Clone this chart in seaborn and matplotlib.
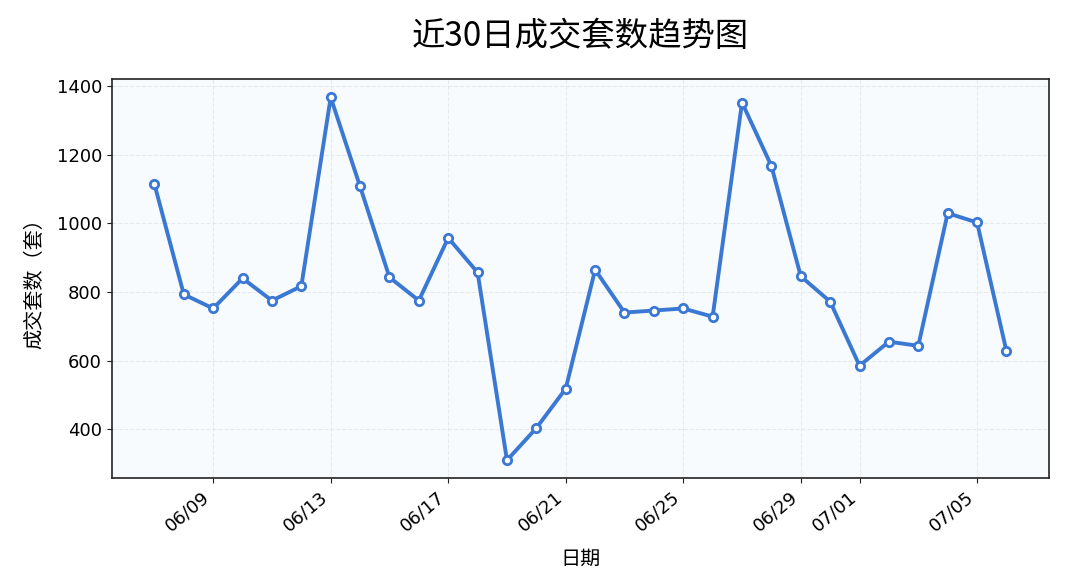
import pandas as pd
import numpy as np
import matplotlib
matplotlib.use('Agg')
import matplotlib.pyplot as plt
import matplotlib.dates as mdates
import seaborn as sns

# 数据：近30日成交套数
dates = pd.date_range('2024-06-07', '2024-07-06', freq='D')
counts = [1115, 793, 752, 840, 775, 817, 1368, 1108, 843, 775,
          958, 857, 309, 403, 518, 865, 740, 746, 752, 728,
          1353, 1168, 846, 772, 585, 655, 643, 1030, 1003, 628]

df = pd.DataFrame({'日期': dates, '成交套数': counts})

sns.set_style('ticks')
plt.rcParams['font.family'] = ['DejaVu Sans', 'Noto Sans CJK SC']
plt.rcParams['axes.unicode_minus'] = False
plt.rcParams['text.color'] = 'black'
plt.rcParams['axes.labelcolor'] = 'black'

fig, ax = plt.subplots(figsize=(10.65, 5.87), dpi=100)
ax.set_facecolor('#f8fbfe')

sns.lineplot(data=df, x='日期', y='成交套数', ax=ax, color='#3a78d4', linewidth=2.8,
             marker='o', markersize=6, markerfacecolor='white',
             markeredgecolor='#3a78d4', markeredgewidth=2)

ax.grid(True, linestyle='--', color='#dde3ea', alpha=0.7, linewidth=0.8)
for s in ax.spines.values():
    s.set_visible(True)
    s.set_color('#222222')
    s.set_linewidth(1.2)

ax.xaxis.set_major_formatter(mdates.DateFormatter('%m/%d'))
cjk = ['Noto Sans CJK SC', 'DejaVu Sans']
ax.set_title('近30日成交套数趋势图', fontsize=24, pad=24, family=cjk)
ax.set_xlabel('日期', fontsize=14.5, family=cjk, labelpad=10)
ax.set_ylabel('成交套数（套）', fontsize=14.5, family=cjk, labelpad=8)
ax.tick_params(labelsize=13, colors='#222222', labelcolor='black')
fig.autofmt_xdate(rotation=40)

fig.subplots_adjust(left=0.105, right=0.985, top=0.865, bottom=0.185)
plt.savefig('out.png', dpi=100)
